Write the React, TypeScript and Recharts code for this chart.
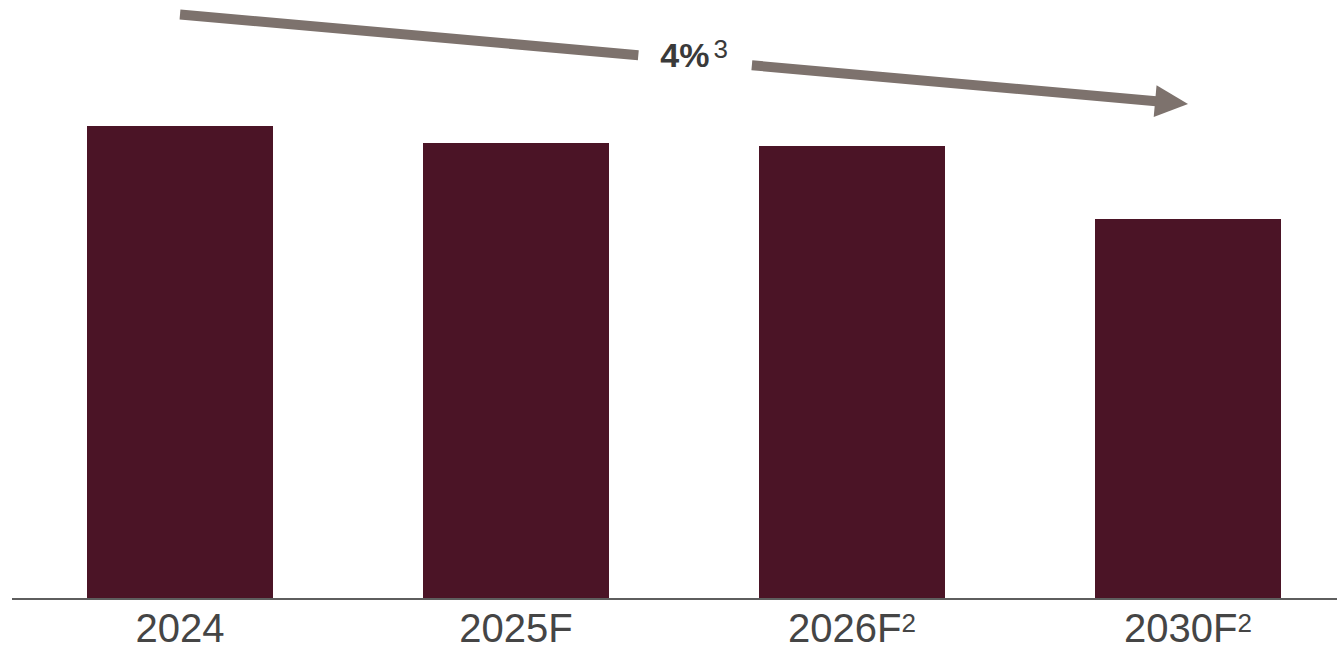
import React from "react";
import { BarChart, Bar, XAxis, YAxis, ReferenceLine } from "recharts";

const categories = ["2024", "2025F", "2026F", "2030F"];
const values = [47.3, 45.6, 45.3, 38.0];
const superscripts = ["", "", "2", "2"];
const trendLabel = "4%";
const trendSup = "3";
const trendStart = { x: "2024", y: 58.45 };
const trendEnd = { x: "2030F", y: 49.5 };

const data = categories.map((c, i) => ({ name: c, value: values[i] }));

const BAR = "#4b1426";
const ARROW = "#7d726d";

const Tick = (props: any) => {
  const { x, y, payload, index } = props;
  const sup = superscripts[index] || "";
  return (
    <text
      x={x}
      y={y + 43}
      textAnchor="middle"
      fontFamily="'Liberation Sans', Arial, sans-serif"
      fontSize={40}
      fill="#454545"
    >
      {payload.value}
      {sup ? (
        <tspan dy={-10} style={{ fontSize: 26 }}>
          {sup}
        </tspan>
      ) : null}
    </text>
  );
};

const ArrowShape = (props: any) => {
  const { x1, y1, x2, y2 } = props;
  const dx = x2 - x1;
  const dy = y2 - y1;
  const len = Math.sqrt(dx * dx + dy * dy);
  const ux = dx / len;
  const uy = dy / len;
  const px = -uy;
  const py = ux;
  const headLen = 33;
  const headHalf = 16;
  const w = 10;
  const gapCenter = 0.511 * len;
  const gapHalf = 57;
  const pt = (d: number) => [x1 + ux * d, y1 + uy * d];
  const [ax, ay] = pt(0);
  const [bx, by] = pt(gapCenter - gapHalf);
  const [cx, cy] = pt(gapCenter + gapHalf);
  const [hx, hy] = pt(len - headLen + 1);
  const [bbx, bby] = pt(len - headLen);
  const [lx, ly] = pt(gapCenter);
  const head = [
    [x2, y2],
    [bbx + px * headHalf, bby + py * headHalf],
    [bbx - px * headHalf, bby - py * headHalf],
  ]
    .map((p) => p.join(","))
    .join(" ");
  return (
    <g>
      <line x1={ax} y1={ay} x2={bx} y2={by} stroke={ARROW} strokeWidth={w} />
      <line x1={cx} y1={cy} x2={hx} y2={hy} stroke={ARROW} strokeWidth={w} />
      <polygon points={head} fill={ARROW} />
      <text
        x={lx - 1}
        y={ly + 7}
        textAnchor="middle"
        fontFamily="'Liberation Sans', Arial, sans-serif"
        fontSize={34}
        fontWeight="bold"
        fill="#3a3a3a"
      >
        {trendLabel}
        <tspan dx={4} dy={-9} style={{ fontSize: 26, fontWeight: "normal" }}>
          {trendSup}
        </tspan>
      </text>
    </g>
  );
};

export default function App() {
  return (
    <div
      style={{
        position: "absolute",
        left: 0,
        top: 0,
        width: 1337,
        height: 648,
        overflow: "hidden",
        background: "#fff",
      }}
    >
      <BarChart
        width={1360}
        height={648}
        data={data}
        margin={{ top: 0, right: 4, bottom: 0, left: 12 }}
        barSize={186}
      >
        <XAxis
          dataKey="name"
          height={49}
          tickLine={false}
          tickSize={0}
          tickMargin={0}
          axisLine={{ stroke: "#5e5e5e", strokeWidth: 2 }}
          tick={<Tick />}
          interval={0}
        />
        <YAxis hide domain={[0, 59.9]} type="number" />
        <Bar dataKey="value" fill={BAR} isAnimationActive={false} />
        <ReferenceLine
          segment={[trendStart, trendEnd]}
          ifOverflow="visible"
          shape={<ArrowShape />}
        />
      </BarChart>
    </div>
  );
}
